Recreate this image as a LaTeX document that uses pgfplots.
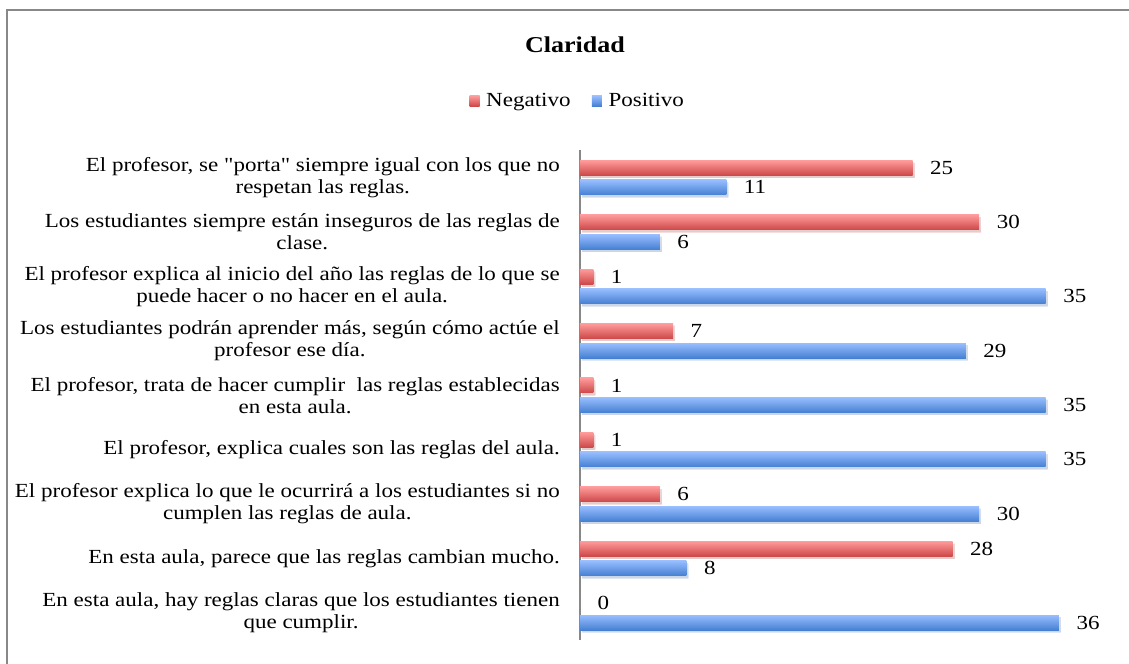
\documentclass[border=0pt]{standalone}
\usepackage{pgfplots}
\pgfplotsset{compat=1.18}
\usepackage{fontspec}
\setmainfont[FakeStretch=1.15]{Liberation Serif}
\newfontfamily\qfont[FakeStretch=1.15]{Liberation Serif}
\usetikzlibrary{shadows}
\definecolor{redtop}{RGB}{255,155,155}
\definecolor{redbot}{RGB}{205,72,72}
\definecolor{bluetop}{RGB}{152,190,255}
\definecolor{bluebot}{RGB}{70,128,210}
\definecolor{framegray}{RGB}{136,136,136}
\begin{document}
\begin{tikzpicture}[x=0.75pt,y=0.75pt]
\path[use as bounding box] (0,0) rectangle (1129,664);
\draw[framegray, line width=1.5pt] (7,-5) -- (7,654) -- (1135,654);
\node[font=\fontsize{17}{20}\selectfont\bfseries] at (575,619) {Claridad};
\begin{axis}[
  at={(435pt,18pt)}, anchor=south west,
  scale only axis, width=359.25pt, height=367.2pt,
  xmin=0, xmax=36, ymin=0.5, ymax=9.5,
  xbar, bar width=11.25pt,
  axis x line=none,
  axis y line*=left,
  y axis line style={framegray, line width=1.2pt, -},
  ytick={1,...,9},
  major tick length=0pt,
  clip=false,
  /pgf/number format/assume math mode=true,
  yticklabels={
    {En esta aula, hay reglas claras que los estudiantes tienen\\que cumplir.},
    {En esta aula, parece que las reglas cambian mucho.},
    {El profesor explica lo que le ocurrirá a los estudiantes si no\\cumplen las reglas de aula.},
    {El profesor, explica cuales son las reglas del aula.},
    {El profesor, trata de hacer cumplir \ las reglas establecidas\\en esta aula.},
    {Los estudiantes podrán aprender más, según cómo actúe el\\profesor ese día.},
    {El profesor explica al inicio del año las reglas de lo que se\\puede hacer o no hacer en el aula.},
    {Los estudiantes siempre están inseguros de las reglas de\\clase.},
    {El profesor, se {\qfont"}porta{\qfont"} siempre igual con los que no\\respetan las reglas.}
  },
  yticklabel style={font=\fontsize{15}{16.5}\selectfont, align=center, inner sep=0pt, xshift=-15pt},
  nodes near coords,
  every node near coord/.append style={font=\fontsize{15}{16.5}\selectfont, black, anchor=west, inner sep=0pt, xshift=13pt},
  legend style={at={(-0.004,1.101)}, anchor=center, draw=none, fill=none,
    legend columns=2, font=\fontsize{15}{16.5}\selectfont,
    /tikz/every odd column/.append style={column sep=3pt},
    /tikz/every even column/.append style={column sep=14pt}},
  legend image code/.code={\path[#1, drop shadow={opacity=0}] (0pt,-3.8pt) rectangle (7.5pt,3.8pt);},
  negbar/.style={draw=none, top color=redtop, bottom color=redbot, bar shift=7.3pt,
    drop shadow={shadow xshift=1.5pt, shadow yshift=-1.8pt, opacity=0.18}, forget plot},
  posbar/.style={draw=none, top color=bluetop, bottom color=bluebot, bar shift=-7.3pt,
    drop shadow={shadow xshift=1.5pt, shadow yshift=-1.8pt, opacity=0.18}, forget plot},
]
\addlegendimage{draw=none, top color=redtop, bottom color=redbot}
\addlegendentry{Negativo}
\addlegendimage{draw=none, top color=bluetop, bottom color=bluebot}
\addlegendentry{Positivo}
% Negativo
\addplot[negbar] coordinates {(0,1)};
\addplot[negbar] coordinates {(28,2)};
\addplot[negbar] coordinates {(6,3)};
\addplot[negbar] coordinates {(1,4)};
\addplot[negbar] coordinates {(1,5)};
\addplot[negbar] coordinates {(7,6)};
\addplot[negbar] coordinates {(1,7)};
\addplot[negbar] coordinates {(30,8)};
\addplot[negbar] coordinates {(25,9)};
% Positivo
\addplot[posbar] coordinates {(36,1)};
\addplot[posbar] coordinates {(8,2)};
\addplot[posbar] coordinates {(30,3)};
\addplot[posbar] coordinates {(35,4)};
\addplot[posbar] coordinates {(35,5)};
\addplot[posbar] coordinates {(29,6)};
\addplot[posbar] coordinates {(35,7)};
\addplot[posbar] coordinates {(6,8)};
\addplot[posbar] coordinates {(11,9)};
\end{axis}
\end{tikzpicture}
\end{document}
